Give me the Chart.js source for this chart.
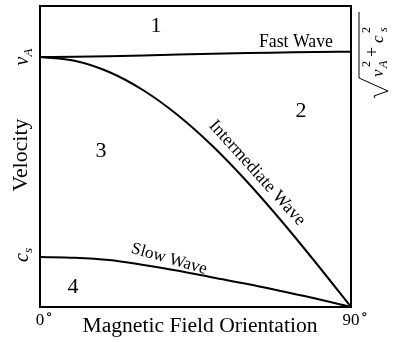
<!DOCTYPE html>
<html>
<head>
<meta charset="utf-8">
<script src="https://cdn.jsdelivr.net/npm/chart.js@4.4.0/dist/chart.umd.min.js"></script>
<style>
  html, body { margin: 0; padding: 0; background: #fff; }
</style>
</head>
<body>
<canvas id="chart" width="399" height="342"></canvas>
<script>
// angle of the magnetic field (degrees) and the three wave speeds
const angles = [0, 10, 20, 30, 40, 50, 60, 70, 80, 90];
const fastWave = [1.0, 1.001, 1.003, 1.006, 1.010, 1.013, 1.016, 1.018, 1.020, 1.021];
const intermediateWave = [1.0, 0.985, 0.94, 0.866, 0.766, 0.643, 0.5, 0.342, 0.174, 0];
const slowWave = [0.2, 0.197, 0.188, 0.168, 0.145, 0.118, 0.092, 0.063, 0.033, 0];

const xTicks = [0, 90];
const xTickLabels = ['0', '90'];
const vA = 1.0;
const cs = 0.2;

const FAMILY = '"Liberation Serif", "DejaVu Serif", serif';

function fitFont(ctx, text, width, style) {
    ctx.font = style + '20px ' + FAMILY;
    const w = ctx.measureText(text).width;
    ctx.font = style + (20 * width / w).toFixed(1) + 'px ' + FAMILY;
}

const annotations = {
    id: 'annotations',
    afterDraw(chart) {
        const {ctx, chartArea: {left, top, right, bottom}, scales: {x, y}} = chart;
        ctx.save();
        ctx.fillStyle = '#000';
        ctx.strokeStyle = '#000';

        // frame
        ctx.lineWidth = 2;
        ctx.strokeRect(left, top, right - left, bottom - top);

        // region numbers
        ctx.font = '22px ' + FAMILY;
        ctx.textAlign = 'center';
        ctx.textBaseline = 'alphabetic';
        ctx.fillText('1', 156, 32);
        ctx.fillText('2', 301, 117);
        ctx.fillText('3', 101, 157);
        ctx.fillText('4', 73, 293);

        // curve names
        fitFont(ctx, 'Fast Wave', 74, '');
        ctx.textAlign = 'right';
        ctx.fillText('Fast Wave', 333, 47);

        ctx.save();
        ctx.translate(257, 173);
        ctx.rotate(48 * Math.PI / 180);
        fitFont(ctx, 'Intermediate Wave', 135, '');
        ctx.textAlign = 'center';
        ctx.textBaseline = 'middle';
        ctx.fillText('Intermediate Wave', 0, 0);
        ctx.restore();

        ctx.save();
        ctx.translate(169, 259);
        ctx.rotate(16 * Math.PI / 180);
        fitFont(ctx, 'Slow Wave', 78, '');
        ctx.textAlign = 'center';
        ctx.textBaseline = 'middle';
        ctx.fillText('Slow Wave', 0, 0);
        ctx.restore();

        // x ticks
        ctx.textBaseline = 'alphabetic';
        xTicks.forEach((t, i) => {
            const px = x.getPixelForValue(t);
            ctx.font = '17px ' + FAMILY;
            ctx.textAlign = 'center';
            ctx.fillText(xTickLabels[i], px, 325);
            const w = ctx.measureText(xTickLabels[i]).width;
            ctx.font = '15px ' + FAMILY;
            ctx.textAlign = 'left';
            ctx.fillText('\u2218', px + w / 2 + 1, 319);
        });

        // x title
        fitFont(ctx, 'Magnetic Field Orientation', 235, '');
        ctx.textAlign = 'center';
        ctx.fillText('Magnetic Field Orientation', 200, 332);

        // y title
        ctx.save();
        ctx.translate(27, 155);
        ctx.rotate(-Math.PI / 2);
        fitFont(ctx, 'Velocity', 73, '');
        ctx.textAlign = 'center';
        ctx.fillText('Velocity', 0, 0);
        ctx.restore();

        // y ticks: v_A and c_s
        const symbol = (main, sub, py) => {
            ctx.save();
            ctx.translate(28, py);
            ctx.rotate(-Math.PI / 2);
            ctx.font = 'italic 20px ' + FAMILY;
            const w1 = ctx.measureText(main).width;
            ctx.font = 'italic 13px ' + FAMILY;
            const w2 = ctx.measureText(sub).width;
            const start = -(w1 + w2) / 2;
            ctx.textAlign = 'left';
            ctx.font = 'italic 20px ' + FAMILY;
            ctx.fillText(main, start, 0);
            ctx.font = 'italic 13px ' + FAMILY;
            ctx.fillText(sub, start + w1, 4);
            ctx.restore();
        };
        symbol('v', 'A', y.getPixelForValue(vA));
        symbol('c', 's', y.getPixelForValue(cs) - 2);

        // right label: sqrt(v_A^2 + c_s^2)
        ctx.save();
        ctx.translate(383, 97);
        ctx.rotate(-Math.PI / 2);
        ctx.lineWidth = 1;
        ctx.beginPath();
        ctx.moveTo(85, -24);
        ctx.lineTo(19, -24);
        ctx.lineTo(6, 5);
        ctx.lineTo(1, -9);
        ctx.lineTo(-1, -8);
        ctx.stroke();
        ctx.textAlign = 'left';
        ctx.font = 'italic 17px ' + FAMILY;
        ctx.fillText('v', 20, 0);
        ctx.fillText('c', 54, 0);
        ctx.font = 'italic 12px ' + FAMILY;
        ctx.fillText('A', 29, 4);
        ctx.fillText('s', 65, 4);
        ctx.font = '12px ' + FAMILY;
        ctx.fillText('2', 30, -13);
        ctx.fillText('2', 64, -13);
        ctx.font = '18px ' + FAMILY;
        ctx.textAlign = 'center';
        ctx.textBaseline = 'middle';
        ctx.fillText('+', 45, -10);
        ctx.restore();

        ctx.restore();
    }
};

const makeSeries = values => angles.map((a, i) => ({x: a, y: values[i]}));

new Chart(document.getElementById('chart'), {
    type: 'line',
    data: {
        datasets: [
            {label: 'Fast Wave', data: makeSeries(fastWave)},
            {label: 'Intermediate Wave', data: makeSeries(intermediateWave)},
            {label: 'Slow Wave', data: makeSeries(slowWave)}
        ]
    },
    options: {
        responsive: false,
        animation: false,
        layout: {padding: {left: 40, right: 48, top: 6, bottom: 35}},
        plugins: {legend: {display: false}, tooltip: {enabled: false}},
        elements: {
            point: {radius: 0},
            line: {borderColor: '#000', borderWidth: 2, cubicInterpolationMode: 'monotone', fill: false}
        },
        scales: {
            x: {type: 'linear', min: 0, max: 90, display: false},
            y: {type: 'linear', min: 0, max: 1.204, display: false}
        }
    },
    plugins: [annotations]
});
</script>
</body>
</html>
